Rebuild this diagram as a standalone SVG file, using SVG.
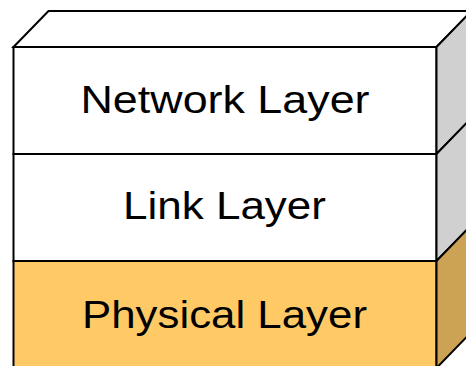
<svg xmlns="http://www.w3.org/2000/svg" width="466" height="366" viewBox="0 0 466 366">
<style>
.e{stroke:#000;stroke-width:2;stroke-linejoin:miter}
.w{fill:#fff}.g{fill:#d0d0d0}.y{fill:#ffca66}.t{fill:#cca354}
text{font-family:"Liberation Sans",Arial,sans-serif;font-size:38px;fill:#000;text-anchor:middle}
</style>
<rect width="466" height="366" fill="#fff"/>
<g id="top">
<polygon class="e w" points="13.5,47 48.5,11 471.5,11 436.5,47"/>
</g>
<g id="network">
<rect class="e w" x="13.5" y="47" width="423" height="107"/>
<polygon class="e g" points="436.5,47 471.5,11 471.5,118 436.5,154"/>
<text x="225" y="113" textLength="289" lengthAdjust="spacingAndGlyphs">Network Layer</text>
</g>
<g id="link">
<rect class="e w" x="13.5" y="154" width="423" height="107"/>
<polygon class="e g" points="436.5,154 471.5,118 471.5,225 436.5,261"/>
<text x="224.5" y="219" textLength="203" lengthAdjust="spacingAndGlyphs">Link Layer</text>
</g>
<g id="physical">
<rect class="e y" x="13.5" y="261" width="423" height="107"/>
<polygon class="e t" points="436.5,261 471.5,225 471.5,332 436.5,368"/>
<text x="224.5" y="327.5" textLength="285" lengthAdjust="spacingAndGlyphs">Physical Layer</text>
</g>
<g id="connectors"></g>
</svg>
